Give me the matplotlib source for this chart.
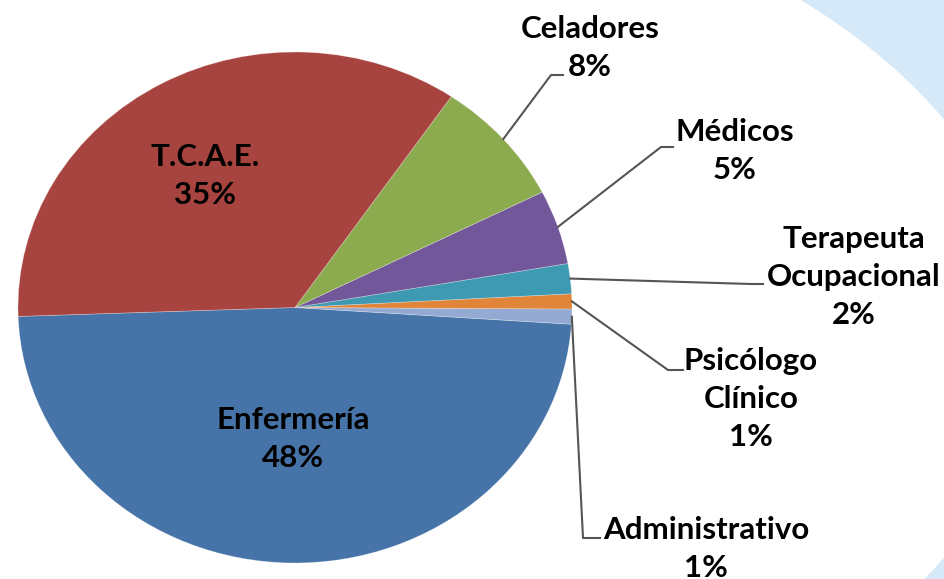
import numpy as np
import matplotlib
matplotlib.use("Agg")
import matplotlib.pyplot as plt
from matplotlib.patches import Ellipse
from matplotlib.lines import Line2D

# ---- data ----
categories = ["Enfermería", "Administrativo", "Psicólogo\nClínico", "Terapeuta\nOcupacional",
              "Médicos", "Celadores", "T.C.A.E."]
values = [48.4, 0.95, 0.95, 1.9, 4.7, 8.0, 35.1]
pct_labels = ["48%", "1%", "1%", "2%", "5%", "8%", "35%"]
colors = ["#4674A8", "#94AAD2", "#E0853A", "#3E9AB2", "#72589A", "#8CAA4E", "#A8443F"]

W, H = 944, 579
fig = plt.figure(figsize=(W / 100, H / 100), dpi=100)
fig.patch.set_facecolor("#d6e9f9")
fig.add_artist(Ellipse((300 / W, 1 - 338.5 / H), 1460 / W, 930 / H,
                       transform=fig.transFigure, facecolor="white", edgecolor="none", zorder=0))

# pie ellipse: x 18..572, y 52..563 (pixels, top origin)
cx, cy, rx, ry = 295, 307.5, 277, 255.5
ax = fig.add_axes([(cx - rx) / W, 1 - (cy + ry) / H, 2 * rx / W, 2 * ry / H])
ax.patch.set_alpha(0)
wedges, _ = ax.pie(values, colors=colors, startangle=182, counterclock=True,
                   radius=1.0, wedgeprops=dict(edgecolor=(1, 1, 1, 0.35), linewidth=0.5))
ax.set_aspect("auto")
ax.set_xlim(-1, 1)
ax.set_ylim(-1, 1)
ax.axis("off")


def px(x, y):
    return (x - cx) / rx, (cy - y) / ry


font = dict(family=["Lato", "DejaVu Sans"], fontweight="bold", fontsize=22.5, color="black",
            ha="center", va="center", linespacing=1.45)

# inside labels
inside = {0: (293, 439), 6: (205, 176)}
for i, (x, y) in inside.items():
    tx, ty = px(x, y)
    ax.text(tx, ty, f"{categories[i]}\n{pct_labels[i]}", **font)

# outside labels with leader lines
outside = {
    5: ((590, 48), [(551, 75), (563, 75)]),
    4: ((735, 151), [(661, 147), (673, 147)]),
    3: ((854, 277), [(751, 284), (763, 284)]),
    2: ((751, 399), [(668, 370), (683, 370)]),
    1: ((706, 549), [(583, 538), (600, 538)]),
}
for i, ((x, y), pts) in outside.items():
    tx, ty = px(x, y)
    ax.text(tx, ty, f"{categories[i]}\n{pct_labels[i]}", clip_on=False, **font)
    w = wedges[i]
    mid = np.deg2rad((w.theta1 + w.theta2) / 2)
    xs = [np.cos(mid)] + [px(*p)[0] for p in pts]
    ys = [np.sin(mid)] + [px(*p)[1] for p in pts]
    ax.add_line(Line2D(xs, ys, color="#555555", linewidth=1.5, clip_on=False))

fig.savefig("out.png", dpi=100)
